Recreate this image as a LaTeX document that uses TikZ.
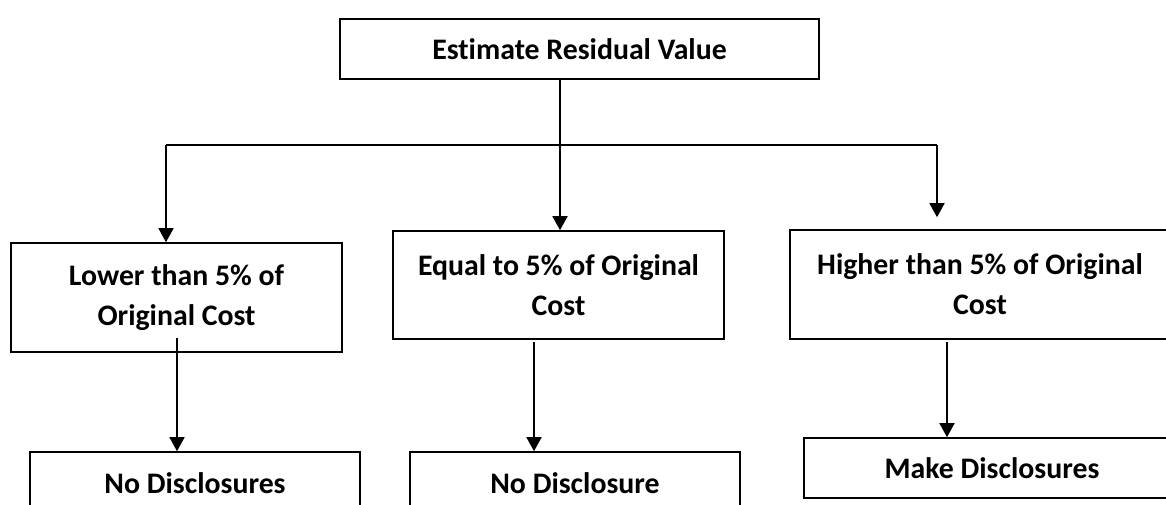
\documentclass[tikz,border=0pt]{standalone}
\usepackage{fontspec}
\setmainfont{Carlito}[Ligatures=NoCommon]
\usetikzlibrary{arrows.meta}
\begin{document}
\begin{tikzpicture}[x=1pt,y=-1pt,
  box/.style={draw, line width=1.6pt, align=center, inner sep=0pt,
    font=\bfseries\fontsize{29.8}{40}\selectfont},
  link/.style={line width=1.6pt},
  arr/.style={line width=1.6pt, -{Triangle[width=15pt,length=14pt]}}]
\clip (0,0) rectangle (1166,505);
\fill[white] (0,0) rectangle (1166,505);
% nodes
\node[box, minimum width=479pt, minimum height=60pt] (top) at (579.5,49) {Estimate Residual Value};
\node[box, minimum width=331pt, minimum height=109pt] (b1) at (176.5,297.5) {Lower than 5\% of\\Original Cost};
\node[box, minimum width=331pt, minimum height=108pt] (b2) at (558.5,285) {Equal to 5\% of Original\\Cost};
\node[box, minimum width=380pt, minimum height=109pt] (b3) at (980,284.5) {Higher than 5\% of Original\\Cost};
\node[box, minimum width=330pt, minimum height=62pt] (b4) at (195,483) {No Disclosures};
\node[box, minimum width=330pt, minimum height=62pt] (b5) at (575,483) {No Disclosure};
\node[box, minimum width=376pt, minimum height=60pt] (b6) at (992,468) {Make Disclosures};
% coordinates
\coordinate (j) at (560,145);
\coordinate (jl) at (166,145);
\coordinate (jr) at (937,145);
\coordinate (a4) at (177,338);
\coordinate (a5) at (534,342);
\coordinate (a6) at (947,342);
% connectors
\draw[link] (top.south -| j) -- (j);
\draw[link] (jl) -- (jr);
\draw[arr] (jl) -- (jl |- b1.north);
\draw[arr] (j) -- (j |- b2.north);
\draw[arr] (jr) -- ([yshift=12pt]jr |- b3.north);
\draw[arr] (a4) -- (a4 |- b4.north);
\draw[arr] (a5) -- (a5 |- b5.north);
\draw[arr] (a6) -- (a6 |- b6.north);
\end{tikzpicture}
\end{document}
